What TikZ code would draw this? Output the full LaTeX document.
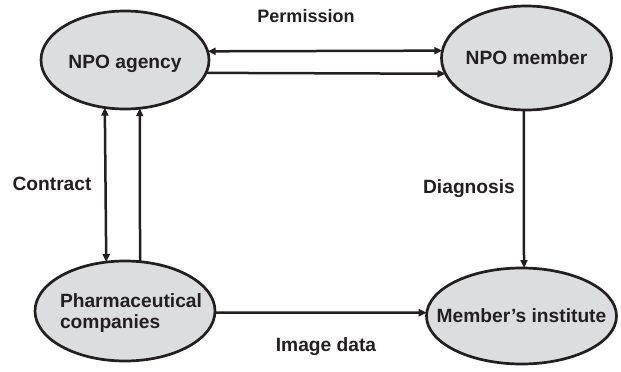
\documentclass[tikz,border=0pt]{standalone}
\usepackage{fontspec}
\setmainfont{Liberation Sans}
\usetikzlibrary{shapes.geometric,arrows.meta}
\definecolor{inkgray}{HTML}{231F20}
\definecolor{bubble}{HTML}{DCDDDF}
% text that does not widen its ellipse, lowered by #1 inside its own box
\newcommand{\nowidth}[2][0pt]{\makebox[0pt]{\raisebox{-#1}[\height][\depth]{#2}}}
\begin{document}
\begin{tikzpicture}[x=1pt,y=-1pt,
  party/.style={ellipse, draw=inkgray, fill=bubble, line width=2.7pt,
    inner sep=0pt, outer sep=0pt, text=inkgray,
    font=\fontsize{19.2}{22}\selectfont\bfseries},
  flow/.style={draw=inkgray, line width=2.5pt,
    -{Triangle[length=8pt,width=7pt]}},
  bothways/.style={flow, {Triangle[length=8pt,width=7pt]}-{Triangle[length=8pt,width=7pt]}},
  tag/.style={text=inkgray, font=\fontsize{19.2}{22}\selectfont\bfseries, inner sep=0pt}]
\useasboundingbox (0,0) rectangle (621,372);

% the four parties
\node[party, minimum width=168pt, minimum height=98pt] (agency) at (125,60)
  {\nowidth[4pt]{NPO agency}};
\node[party, minimum width=170pt, minimum height=104pt] (member) at (526.5,58) {\nowidth{NPO member}};
\node[party, minimum width=180pt, minimum height=100pt] (pharma) at (125,311)
  {\nowidth[3pt]{\hspace*{12pt}\begin{tabular}{@{}l@{}}Pharmaceutical\\[-1pt]companies\end{tabular}}};
\node[party, minimum width=190pt, minimum height=96pt] (inst) at (521.5,316) {\nowidth{Member’s institute}};

% agency <-> member
\draw[bothways] (agency.6.1) -- (member.175.3);
\draw[flow] (agency.-9.7) -- (member.191.0);

% agency <-> pharmaceutical companies
\draw[bothways] (agency.247.6) -- (pharma.111.9);
\draw[flow] (pharma.73.4) -- (agency.-73.0);

% member -> institute
\draw[flow] (member.267.3) -- (inst.87.1);

% pharmaceutical companies -> institute
\draw[flow] (pharma.-1.9) -- (inst.178.8);

% labels
\node[tag, font=\fontsize{18}{21}\selectfont\bfseries] (lperm) at (306,16) {Permission};
\node[tag] (lcont) at (52,184) {Contract};
\node[tag] (ldiag) at (469,189) {Diagnosis};
\node[tag] (limg) at (326,347) {Image data};
\end{tikzpicture}
\end{document}
